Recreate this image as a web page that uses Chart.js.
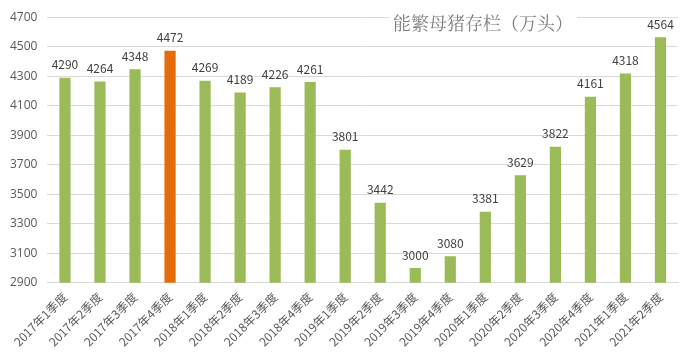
<!DOCTYPE html>
<html>
<head>
<meta charset="utf-8">
<script src="https://cdn.jsdelivr.net/npm/chart.js@4"></script>
<style>
  html, body { margin: 0; padding: 0; background: #fff; }
  #wrap { position: relative; width: 693px; height: 360px; }
  #title {
    position: absolute; left: 389px; top: 10px;
    font-family: "Noto Serif CJK SC", "Noto Sans CJK SC", serif;
    font-size: 18px; color: #7f7f7f;
    background: #fff; padding: 0 4px; line-height: 24px;
  }
</style>
</head>
<body>
<div id="wrap">
  <canvas id="pig-chart" width="693" height="360"></canvas>
  <div id="title">能繁母猪存栏（万头）</div>
</div>
<script>
var quarters = ["2017年1季度", "2017年2季度", "2017年3季度", "2017年4季度",
                "2018年1季度", "2018年2季度", "2018年3季度", "2018年4季度",
                "2019年1季度", "2019年2季度", "2019年3季度", "2019年4季度",
                "2020年1季度", "2020年2季度", "2020年3季度", "2020年4季度",
                "2021年1季度", "2021年2季度"];
var sows = [4290, 4264, 4348, 4472, 4269, 4189, 4226, 4261, 3801, 3442, 3000, 3080,
            3381, 3629, 3822, 4161, 4318, 4564];
var highlight = "2017年4季度";

var barColors = [];
for (var i = 0; i < quarters.length; i++) {
    barColors.push(quarters[i] == highlight ? "#e46c0a" : "#9bbb59");
}

// draw the number above every bar
var valueLabels = {
    id: "valueLabels",
    afterDatasetsDraw: function(chart) {
        var ctx = chart.ctx;
        var meta = chart.getDatasetMeta(0);
        ctx.save();
        ctx.font = "12px 'Noto Sans CJK SC', 'Open Sans', sans-serif";
        ctx.fillStyle = "#404040";
        ctx.textAlign = "center";
        ctx.textBaseline = "bottom";
        meta.data.forEach(function(bar, idx) {
            ctx.fillText(String(chart.data.datasets[0].data[idx]), bar.x, bar.y - 7);
        });
        ctx.restore();
    }
};

var ctx = document.getElementById("pig-chart").getContext("2d");
var pigChart = new Chart(ctx, {
    type: "bar",
    data: {
        labels: quarters,
        datasets: [{
            label: "能繁母猪存栏（万头）",
            data: sows,
            backgroundColor: barColors,
            barPercentage: 0.32,
            categoryPercentage: 1.0
        }]
    },
    options: {
        responsive: false,
        animation: false,
        layout: { padding: { top: 8, left: 0, right: 15, bottom: 4 } },
        plugins: {
            legend: { display: false },
            tooltip: { enabled: false }
        },
        scales: {
            x: {
                grid: { display: false, drawTicks: false },
                border: { color: "#d9d9d9" },
                ticks: {
                    color: "#595959",
                    font: { size: 12, family: "'Noto Sans CJK SC', sans-serif" },
                    minRotation: 45,
                    maxRotation: 45,
                    padding: 7,
                    autoSkip: false
                }
            },
            y: {
                min: 2900,
                max: 4700,
                grid: { color: "#d9d9d9", drawTicks: false },
                border: { display: false },
                ticks: {
                    stepSize: 200,
                    color: "#595959",
                    font: { size: 12, family: "'Open Sans', 'Noto Sans', sans-serif" },
                    padding: 10,
                    callback: function(v) { return String(v); }
                }
            }
        }
    },
    plugins: [valueLabels]
});
</script>
</body>
</html>
